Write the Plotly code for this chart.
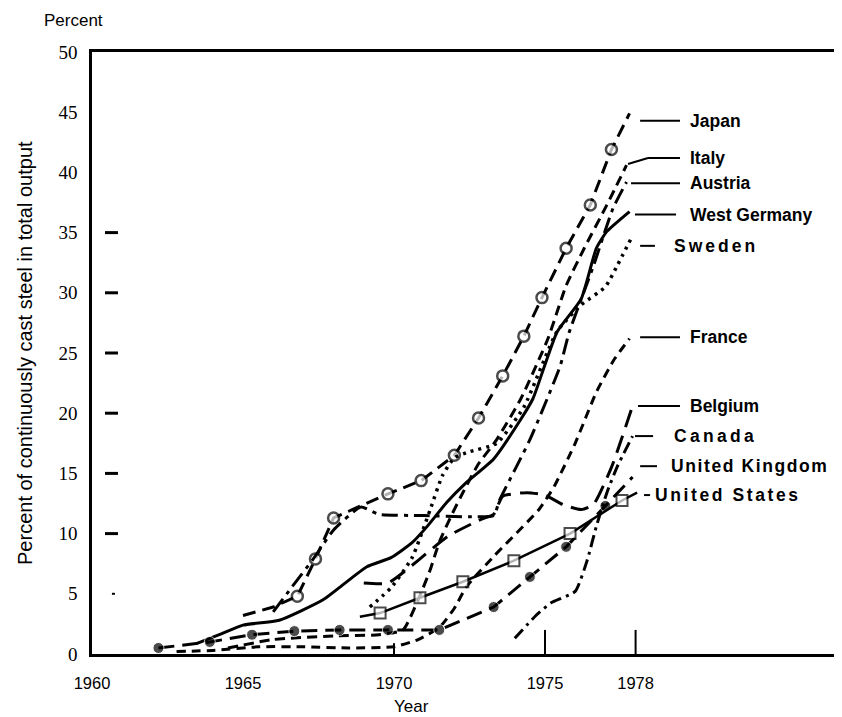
import plotly.graph_objects as go

# ---------------- data ----------------
japan_x = [1965.0, 1966.0, 1966.8, 1967.4, 1968.0, 1969.8, 1970.9, 1972.0, 1972.8, 1973.6, 1974.3, 1974.9, 1975.7, 1976.5, 1977.2, 1977.8]
japan_y = [3.2, 3.9, 4.8, 7.9, 11.3, 13.3, 14.4, 16.5, 19.6, 23.1, 26.4, 29.6, 33.7, 37.3, 41.9, 44.9]

italy_x = [1964.5, 1966.0, 1968.0, 1969.5, 1970.3, 1970.8, 1971.2, 1971.5, 1971.9, 1972.3, 1972.8, 1973.4, 1974.2, 1975.1, 1975.7, 1976.3, 1977.05, 1977.7]
italy_y = [0.5, 1.2, 1.5, 1.6, 2.0, 4.5, 7.0, 9.3, 11.5, 13.5, 15.8, 17.8, 21.2, 26.2, 30.6, 33.7, 37.3, 40.6]

austria_x = [1966.0, 1966.6, 1967.3, 1968.0, 1968.9, 1969.5, 1971.0, 1972.5, 1973.3, 1973.5, 1974.5, 1975.5, 1975.8, 1976.6, 1977.25, 1977.7]
austria_y = [3.5, 5.5, 7.8, 10.3, 12.2, 11.6, 11.5, 11.4, 11.5, 12.8, 17.8, 23.9, 26.7, 32.2, 37.0, 39.2]

wgermany_x = [1963.5, 1964.3, 1965.0, 1966.2, 1967.65, 1969.1, 1969.9, 1970.6, 1971.1, 1971.75, 1972.4, 1973.3, 1974.2, 1974.6, 1975.4, 1976.2, 1976.7, 1977.05, 1977.8]
wgermany_y = [0.9, 1.7, 2.4, 2.8, 4.5, 7.25, 8.0, 9.25, 10.6, 12.6, 14.25, 16.2, 19.5, 21.2, 26.75, 29.5, 33.7, 35.1, 36.75]

sweden_x = [1969.2, 1969.9, 1970.6, 1971.2, 1971.6, 1972.0, 1972.5, 1973.4, 1974.3, 1975.4, 1976.2, 1977.0, 1977.4, 1977.85]
sweden_y = [3.9, 5.5, 8.0, 12.0, 14.8, 16.3, 16.8, 17.5, 20.5, 26.8, 29.0, 30.5, 32.3, 34.5]

france_x = [1962.8, 1964.0, 1965.5, 1967.0, 1968.5, 1970.0, 1970.8, 1971.5, 1972.0, 1972.4, 1973.3, 1974.8, 1975.3, 1976.0, 1976.7, 1977.3, 1977.8]
france_y = [0.2, 0.3, 0.6, 0.6, 0.5, 0.6, 1.2, 2.2, 3.8, 5.6, 8.1, 12.0, 13.9, 17.5, 21.75, 24.5, 26.2]

belgium_x = [1969.0, 1969.8, 1971.8, 1972.9, 1973.3, 1973.6, 1974.4, 1975.0, 1975.6, 1976.2, 1976.6, 1977.2, 1977.9]
belgium_y = [5.9, 5.9, 9.8, 11.2, 11.6, 13.1, 13.4, 13.2, 12.4, 12.0, 12.4, 15.5, 20.6]

canada_x = [1974.0, 1974.7, 1975.2, 1976.0, 1976.4, 1976.7, 1977.05, 1977.4, 1977.9]
canada_y = [1.3, 3.2, 4.25, 5.2, 7.8, 10.6, 13.4, 15.6, 18.1]

uk_x = [1962.2, 1963.9, 1965.3, 1966.7, 1968.2, 1969.8, 1971.5, 1973.3, 1974.5, 1975.7, 1977.0, 1977.9]
uk_y = [0.5, 1.0, 1.6, 1.9, 2.0, 2.0, 2.0, 3.9, 6.4, 8.9, 12.3, 14.7]

us_x = [1968.87, 1969.54, 1970.86, 1972.28, 1973.97, 1975.83, 1977.55, 1978.05]
us_y = [3.1, 3.4, 4.67, 6.0, 7.75, 10.0, 12.75, 13.4]

countries = ["Japan", "Italy", "Austria", "West Germany", "Sweden", "France",
             "Belgium", "Canada", "United Kingdom", "United States"]

x_tickvals = [1960, 1965, 1970, 1975, 1978]
x_ticktext = ["1960", "1965", "1970", "1975", "1978"]
y_tickvals = [0, 5, 10, 15, 20, 25, 30, 35, 40, 45, 50]
y_ticktext = ["0", "5", "10", "15", "20", "25", "30", "35", "40", "45", "50"]
y_marks = [10, 15, 20, 25, 30, 35]

# ---------------- styling ----------------
BLACK = "#000000"
SANS = "Liberation Sans, Arial, sans-serif"
fig = go.Figure()


def add_line(x, y, dash, width=3, shape="spline", marker=None, mode="lines"):
    line = dict(color=BLACK, width=width, dash=dash, shape=shape)
    if shape == "spline":
        line["smoothing"] = 0.5
    tr = dict(x=x, y=y, mode=mode, showlegend=False, hoverinfo="skip", line=line)
    if marker is not None:
        tr["marker"] = marker
    fig.add_trace(go.Scatter(**tr))


# Japan: long dash with open circles
j_sizes = [0, 0] + [11] * (len(japan_x) - 3) + [0]
add_line(japan_x, japan_y, "13px,7px", shape="linear", mode="lines+markers",
         marker=dict(symbol="circle", size=j_sizes, color="white",
                     line=dict(color=BLACK, width=2.5)))
add_line(italy_x, italy_y, "10px,6px")
add_line(austria_x, austria_y, "16px,6px,4px,6px")
add_line(wgermany_x, wgermany_y, "solid")
add_line(sweden_x, sweden_y, "3px,5px", width=3.5)
add_line(france_x, france_y, "9px,6px")
add_line(belgium_x, belgium_y, "18px,9px")
add_line(canada_x, canada_y, "12px,5px,3px,5px")
uk_sizes = [11] * (len(uk_x) - 1) + [0]
add_line(uk_x, uk_y, "16px,8px", shape="linear", mode="lines+markers",
         marker=dict(symbol="circle", size=uk_sizes, color=BLACK))
us_sizes = [0] + [11] * (len(us_x) - 2) + [0]
add_line(us_x, us_y, "solid", width=2.5, shape="linear", mode="lines+markers",
         marker=dict(symbol="square", size=us_sizes, color="white",
                     line=dict(color=BLACK, width=2)))

# ---------------- labels with leader lines ----------------
label_pct = [44.3, 41.2, 39.1, 36.5, 33.9, 26.3, 20.6, 18.1, 15.6, 13.2]
leader_x0 = [1978.15, 1978.41, 1977.85, 1977.98, 1978.15, 1978.15, 1978.08, 1977.98, 1978.15, 1978.28]
leader_x1 = [1979.47, 1979.47, 1979.47, 1979.34, 1978.64, 1979.47, 1979.47, 1978.58, 1978.71, 1978.48]
label_x = [1979.72, 1979.72, 1979.72, 1979.72, 1979.22, 1979.72, 1979.72, 1979.22, 1979.12, 1978.56]
label_spacing = [0, 0, 0, 0, 3, 0, 0, 3.3, 1.6, 2.6]

annotations = []
for name, yv, x0, x1, lx, sp in zip(countries, label_pct, leader_x0, leader_x1, label_x, label_spacing):
    fig.add_shape(type="line", xref="x", yref="y", x0=x0, x1=x1, y0=yv, y1=yv,
                  line=dict(color=BLACK, width=2))
    txt = "<b>%s</b>" % name
    if sp:
        txt = "<span style='letter-spacing:%spx'><b>%s</b></span>" % (sp, name)
    annotations.append(dict(x=lx, y=yv, xref="x", yref="y", text=txt,
                            showarrow=False, xanchor="left", yanchor="middle",
                            font=dict(family=SANS, size=17.5, color=BLACK)))
# small slanted connector for Italy
fig.add_shape(type="line", xref="x", yref="y", x0=1977.75, y0=40.7, x1=1978.41, y1=41.2,
              line=dict(color=BLACK, width=2))

# ---------------- detached tick marks (as in the scan) ----------------
for yv in y_marks:
    fig.add_shape(type="line", xref="x", yref="y", x0=1960.43, x1=1960.86, y0=yv, y1=yv,
                  line=dict(color=BLACK, width=3))
fig.add_shape(type="line", xref="x", yref="y", x0=1960.66, x1=1960.76, y0=5, y1=5,
              line=dict(color=BLACK, width=2))
for xv, h in [(1970, 0.9), (1975, 2.0), (1978, 2.0)]:
    fig.add_shape(type="line", xref="x", yref="y", x0=xv, x1=xv, y0=0, y1=h,
                  line=dict(color=BLACK, width=2))

# ---------------- axes & text ----------------
fig.update_xaxes(range=[1960, 1985.1], tickvals=x_tickvals, ticktext=x_ticktext,
                 showgrid=False, zeroline=False, showline=True, linecolor=BLACK, linewidth=2.5,
                 mirror=True, ticks="outside", ticklen=12, tickcolor="rgba(0,0,0,0)",
                 tickfont=dict(family=SANS, size=16.5, color=BLACK))
fig.update_yaxes(range=[0, 50], tickvals=y_tickvals, ticktext=y_ticktext,
                 showgrid=False, zeroline=False, showline=True, linecolor=BLACK, linewidth=2.5,
                 ticks="outside", ticklen=8, tickcolor="rgba(0,0,0,0)",
                 tickfont=dict(family="Liberation Serif, Times New Roman, serif", size=19, color=BLACK))

annotations += [
    dict(text="Percent", xref="paper", yref="paper", x=-0.066, y=1.053,
         xanchor="left", yanchor="middle", showarrow=False,
         font=dict(family=SANS, size=17, color=BLACK)),
    dict(text="Year", xref="paper", yref="paper", x=0.422, y=-0.088,
         xanchor="center", yanchor="middle", showarrow=False,
         font=dict(family=SANS, size=17, color=BLACK)),
    dict(text="Percent of continuously cast steel in total output", xref="paper", yref="paper",
         x=-0.0884, y=0.5, xanchor="center", yanchor="middle", textangle=-90, showarrow=False,
         font=dict(family=SANS, size=20, color=BLACK)),
]

fig.update_layout(
    width=842, height=717,
    margin=dict(l=84, r=0, t=44, b=71),
    paper_bgcolor="white", plot_bgcolor="white",
    showlegend=False,
    annotations=annotations,
)

fig.write_html("out.html")
